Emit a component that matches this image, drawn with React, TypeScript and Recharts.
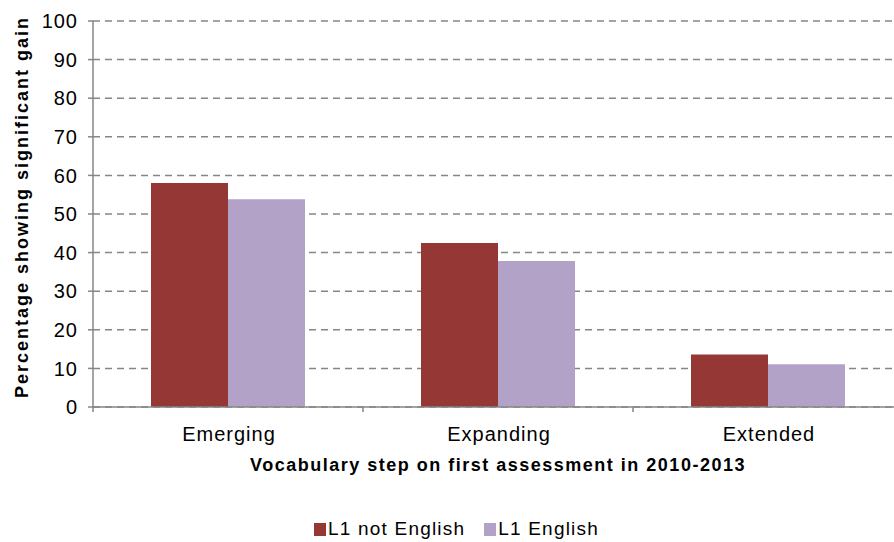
import React from "react";
import { BarChart, Bar, XAxis, YAxis, CartesianGrid, Legend } from "recharts";

const categories = ["Emerging", "Expanding", "Extended"];
const l1NotEnglish = [58, 42.5, 13.6];
const l1English = [53.8, 37.8, 11.1];
const yTicks = [0, 10, 20, 30, 40, 50, 60, 70, 80, 90, 100];

const seriesNames = ["L1 not English", "L1 English"];
const seriesColors = ["#953735", "#B3A2C7"];

const data = categories.map((c, i) => ({
  name: c,
  notEnglish: l1NotEnglish[i],
  english: l1English[i],
}));

const FONT = "'Liberation Sans', Arial, sans-serif";
const AXIS_COLOR = "#868686";

const XTick = (props: any) => {
  const { x, y, payload, width, index } = props;
  const band = width / categories.length;
  return (
    <g>
      <line x1={x - band / 2} x2={x - band / 2} y1={y} y2={y + 5} stroke={AXIS_COLOR} strokeWidth={1.5} />
      {index === categories.length - 1 && (
        <line x1={x + band / 2} x2={x + band / 2} y1={y} y2={y + 5} stroke={AXIS_COLOR} strokeWidth={1.5} />
      )}
      <text
        x={x + 1}
        y={y + 34}
        textAnchor="middle"
        fontFamily={FONT}
        fontSize={20}
        letterSpacing={1}
        fill="#000"
      >
        {payload.value}
      </text>
    </g>
  );
};

const LegendContent = () => (
  <div
    style={{
      display: "flex",
      alignItems: "center",
      fontFamily: FONT,
      fontSize: 19,
      letterSpacing: "1.2px",
      color: "#000",
    }}
  >
    {seriesNames.map((n, i) => (
      <div key={n} style={{ display: "flex", alignItems: "center", marginRight: i === 0 ? 19 : 0 }}>
        <span
          style={{
            display: "inline-block",
            width: 12,
            height: 13,
            background: seriesColors[i],
            marginRight: 2,
            marginTop: 1,
          }}
        />
        <span style={{ lineHeight: "22px" }}>{n}</span>
      </div>
    ))}
  </div>
);

export default function App() {
  return (
    <div
      style={{
        position: "fixed",
        left: 0,
        top: 0,
        width: 894,
        height: 542,
        overflow: "hidden",
        background: "#fff",
      }}
    >
      <BarChart
        width={910}
        height={542}
        data={data}
        margin={{ top: 21, right: 7, left: 0, bottom: 65 }}
        barGap={0}
        barSize={77}
      >
        <CartesianGrid
          vertical={false}
          stroke={AXIS_COLOR}
          strokeWidth={1.5}
          strokeDasharray="7 5"
        />
        <XAxis
          dataKey="name"
          height={70}
          tickLine={false}
          tickSize={0}
          tickMargin={0}
          axisLine={{ stroke: AXIS_COLOR, strokeWidth: 1.5 }}
          tick={<XTick />}
          interval={0}
          label={{
            content: ({ viewBox }: any) => (
              <text
                x={viewBox.x + viewBox.width / 2}
                y={viewBox.y + 64}
                textAnchor="middle"
                fontFamily={FONT}
                fontSize={18}
                fontWeight="bold"
                letterSpacing={1.5}
                fill="#000"
              >
                Vocabulary step on first assessment in 2010-2013
              </text>
            ),
          }}
        />
        <YAxis
          width={93}
          domain={[0, 100]}
          ticks={yTicks}
          interval={0}
          tickSize={5}
          tickMargin={10}
          tickLine={{ stroke: AXIS_COLOR, strokeWidth: 1.5 }}
          axisLine={{ stroke: AXIS_COLOR, strokeWidth: 1.5 }}
          tick={{ fontFamily: FONT, fontSize: 20, fill: "#000", letterSpacing: 1 }}
          label={{
            content: ({ viewBox }: any) => {
              const cx = viewBox.x + 28;
              const cy = viewBox.y + 186;
              return (
                <text
                  x={cx}
                  y={cy}
                  transform={`rotate(-90, ${cx}, ${cy})`}
                  textAnchor="middle"
                  fontFamily={FONT}
                  fontSize={18}
                  fontWeight="bold"
                  letterSpacing={2}
                  fill="#000"
                >
                  Percentage showing significant gain
                </text>
              );
            },
          }}
        />
        <Legend
          layout="horizontal"
          verticalAlign="middle"
          align="center"
          content={<LegendContent />}
          wrapperStyle={{ top: 518, left: 314, width: 420, height: 22 }}
        />
        <Bar dataKey="notEnglish" name={seriesNames[0]} fill={seriesColors[0]} isAnimationActive={false} />
        <Bar dataKey="english" name={seriesNames[1]} fill={seriesColors[1]} isAnimationActive={false} />
      </BarChart>
    </div>
  );
}
